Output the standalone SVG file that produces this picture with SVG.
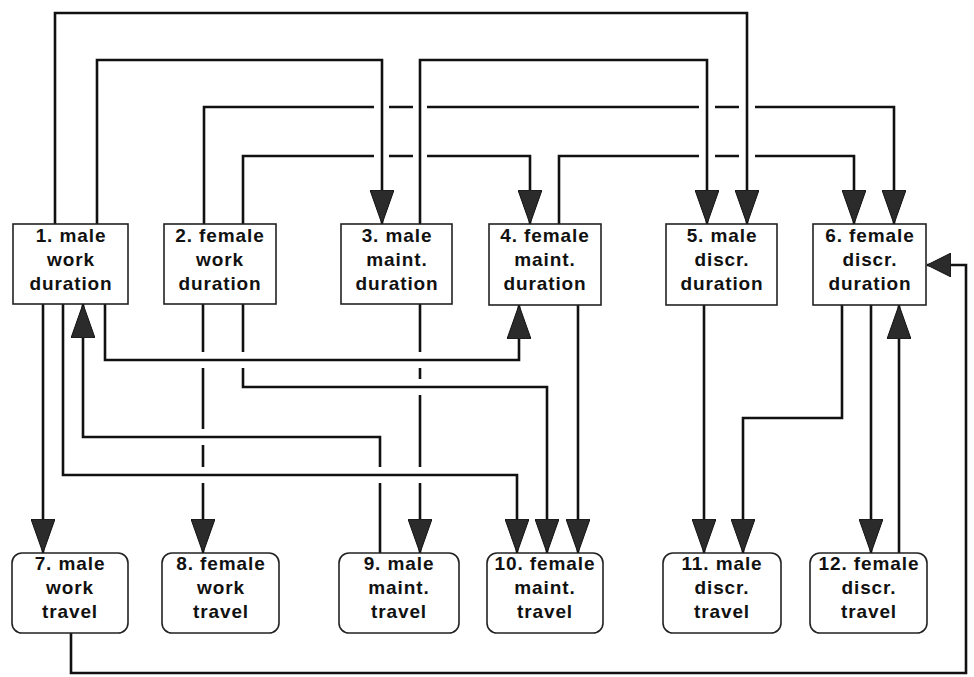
<svg xmlns="http://www.w3.org/2000/svg" width="974" height="677" viewBox="0 0 974 677">
<style>
.box{fill:#fff;stroke:#222;stroke-width:1.6}
.lbl{font-family:"Liberation Sans",Arial,sans-serif;font-weight:bold;font-size:19px;letter-spacing:0.9px;fill:#111;text-anchor:middle}
.c{fill:none;stroke:#111;stroke-width:2.6;marker-end:url(#arr)}
.c2{fill:none;stroke:#111;stroke-width:2.6;marker-end:url(#arrS)}
</style>
<defs>
<marker id="arr" markerUnits="userSpaceOnUse" viewBox="0 0 34 24" markerWidth="34" markerHeight="24" refX="34" refY="12" orient="auto">
<path d="M0,0 L34,12 L0,24 Z" fill="#2b2b2b" stroke="#111" stroke-width="1"/>
</marker>
<marker id="arrS" markerUnits="userSpaceOnUse" viewBox="0 0 24 24" markerWidth="24" markerHeight="24" refX="24" refY="12" orient="auto">
<path d="M0,0 L24,12 L0,24 Z" fill="#2b2b2b" stroke="#111" stroke-width="1"/>
</marker>
</defs>
<rect width="974" height="677" fill="#fff"/>
<g id="connectors">
<path id="c1" class="c" d="M55,224 V13 H747 V224"/>
<path id="c2" class="c" d="M97,224 V60 H382 V224"/>
<path id="c3" class="c" d="M420,224 V60 H707 V224"/>
<path id="c4" class="c" d="M204,224 V107 H374 M389,107 H413 M427,107 H699 M715,107 H739 M755,107 H894 V224"/>
<path id="c5" class="c" d="M243,224 V156 H374 M389,156 H413 M427,156 H530 V224"/>
<path id="c6" class="c" d="M559,224 V156 H699 M715,156 H739 M755,156 H854 V224"/>
<path id="c7" class="c" d="M43,304 V553"/>
<path id="c8" class="c" d="M63,304 V475 H517 V553"/>
<path id="c9" class="c" d="M380,553 V483 M380,467 V437 H83 V304"/>
<path id="c10" class="c" d="M105,304 V360 H519 V305"/>
<path id="c11" class="c" d="M203,304 V352 M203,368 V429 M203,445 V467 M203,483 V553"/>
<path id="c12" class="c" d="M243,304 V352 M243,368 V387 H547 V553"/>
<path id="c13" class="c" d="M420,304 V352 M420,368 V379 M420,395 V467 M420,483 V553"/>
<path id="c14" class="c" d="M578,305 V553"/>
<path id="c15" class="c" d="M704,305 V553"/>
<path id="c16" class="c" d="M842,305 V418 H743 V553"/>
<path id="c17" class="c" d="M871,305 V553"/>
<path id="c18" class="c" d="M899,553 V305"/>
<path id="c19" class="c2" d="M71,633 V673 H966 V265 H927"/>
</g>
<g id="n1"><rect class="box" x="13" y="224" width="115" height="80"/><text class="lbl" x="71" y="242">1. male</text><text class="lbl" x="71" y="266">work</text><text class="lbl" x="71" y="290">duration</text></g>
<g id="n2"><rect class="box" x="164" y="224" width="112" height="80"/><text class="lbl" x="220" y="242">2. female</text><text class="lbl" x="220" y="266">work</text><text class="lbl" x="220" y="290">duration</text></g>
<g id="n3"><rect class="box" x="341" y="224" width="111" height="80"/><text class="lbl" x="397" y="242">3. male</text><text class="lbl" x="397" y="266">maint.</text><text class="lbl" x="397" y="290">duration</text></g>
<g id="n4"><rect class="box" x="489" y="224" width="112" height="81"/><text class="lbl" x="545" y="242">4. female</text><text class="lbl" x="545" y="266">maint.</text><text class="lbl" x="545" y="290">duration</text></g>
<g id="n5"><rect class="box" x="666" y="224" width="111" height="81"/><text class="lbl" x="722" y="242">5. male</text><text class="lbl" x="722" y="266">discr.</text><text class="lbl" x="722" y="290">duration</text></g>
<g id="n6"><rect class="box" x="813" y="224" width="113" height="81"/><text class="lbl" x="870" y="242">6. female</text><text class="lbl" x="870" y="266">discr.</text><text class="lbl" x="870" y="290">duration</text></g>
<g id="n7"><rect class="box" x="12" y="553" width="116" height="80" rx="10"/><text class="lbl" x="70" y="570">7. male</text><text class="lbl" x="70" y="594">work</text><text class="lbl" x="70" y="618">travel</text></g>
<g id="n8"><rect class="box" x="162" y="553" width="117" height="80" rx="10"/><text class="lbl" x="221" y="570">8. female</text><text class="lbl" x="221" y="594">work</text><text class="lbl" x="221" y="618">travel</text></g>
<g id="n9"><rect class="box" x="339" y="553" width="120" height="80" rx="10"/><text class="lbl" x="399" y="570">9. male</text><text class="lbl" x="399" y="594">maint.</text><text class="lbl" x="399" y="618">travel</text></g>
<g id="n10"><rect class="box" x="487" y="553" width="116" height="80" rx="10"/><text class="lbl" x="545" y="570">10. female</text><text class="lbl" x="545" y="594">maint.</text><text class="lbl" x="545" y="618">travel</text></g>
<g id="n11"><rect class="box" x="663" y="553" width="118" height="80" rx="10"/><text class="lbl" x="722" y="570">11. male</text><text class="lbl" x="722" y="594">discr.</text><text class="lbl" x="722" y="618">travel</text></g>
<g id="n12"><rect class="box" x="810" y="553" width="117" height="80" rx="10"/><text class="lbl" x="869" y="570">12. female</text><text class="lbl" x="869" y="594">discr.</text><text class="lbl" x="869" y="618">travel</text></g>
</svg>
